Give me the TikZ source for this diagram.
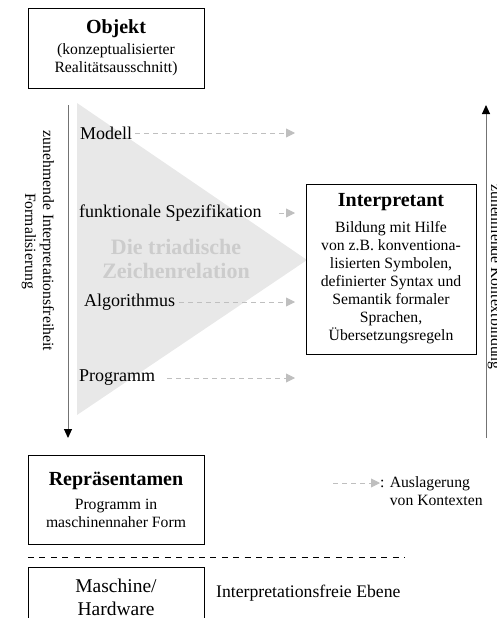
\documentclass[tikz,border=0pt]{standalone}
\usepackage{fontspec}
\setmainfont{Liberation Serif}
\usetikzlibrary{arrows.meta}

\newcommand{\bodyfs}{\fontsize{15.7}{18}\selectfont}
\newcommand{\titlefs}{\fontsize{20}{24}\selectfont\bfseries}
\newcommand{\lblfs}{\fontsize{18}{21}\selectfont}

\begin{document}
\begin{tikzpicture}[x=1pt,y=-1pt,
box/.style={draw,line width=0.8pt,align=center,inner sep=0pt,font=\bodyfs,minimum width=176pt},
lbl/.style={anchor=west,inner sep=0pt,font=\lblfs},
ctx/.style={draw=black!25,line width=0.9pt,dash pattern=on 5pt off 4pt,-{Triangle[length=9pt,width=9pt,color=black!25]}},
axis/.style={draw=black!55,line width=1pt,-{Triangle[length=9pt,width=8pt,color=black]}}
]

\useasboundingbox (0,0) rectangle (497,618);
\clip (0,0) rectangle (497,618);

\fill[black!9] (77,103) -- (77,415) -- (307,260) -- cycle;

\node[font=\fontsize{22}{24}\selectfont\bfseries,text=black!20,align=center] (triad) at (176,259) {Die triadische\\Zeichenrelation};

\node[box,minimum height=80pt] (objekt) at (116,48) {{\titlefs Objekt}\\[3pt](konzeptualisierter\\Realitätsausschnitt)};
\node[box,minimum width=170pt,minimum height=170pt] (interpretant) at (391,269) {{\titlefs Interpretant}\\[8pt]Bildung mit Hilfe\\von z.B. konventiona-\\lisierten Symbolen,\\definierter Syntax und\\Semantik formaler\\Sprachen,\\Übersetzungsregeln};
\node[box,minimum height=89pt] (repr) at (116,499.5) {{\titlefs Repräsentamen}\\[6pt]Programm in\\maschinennaher Form};
\node[box,minimum height=60pt,font=\fontsize{19.5}{23}\selectfont] (maschine) at (116,597) {Maschine/\\Hardware};

\node[lbl] (modell) at (80,133) {Modell};
\node[lbl] (spez) at (79,213) {funktionale Spezifikation};
\node[lbl] (algo) at (84,302) {Algorithmus};
\node[lbl] (prog) at (79,378) {Programm};

\coordinate (ctxend) at (295,0);
\foreach \n/\s in {modell/3,spez/17,algo/4,prog/12}
{
\draw[ctx] ([xshift=\s pt]\n.east) -- (\n.east -| ctxend);
}

\coordinate (ltop) at (68,105);
\coordinate (lbot) at (68,438);
\coordinate (rbot) at (486,438);
\coordinate (rtop) at (486,105);
\draw[axis] (ltop) -- (lbot);
\draw[axis] (rbot) -- (rtop);

\node[rotate=-90,align=center,font=\bodyfs] (freiheit) at (38,241) {zunehmende Interpretationsfreiheit\\Formalisierung};
\node[rotate=-90,anchor=base,font=\bodyfs] (bindung) at (491,277) {zunehmende Kontextbindung};

\node[anchor=west,inner sep=0pt,align=left,font=\bodyfs] (legende) at (380,491) {: Auslagerung\\\phantom{: }von Kontexten};
\coordinate (lstart) at (333,483);
\draw[ctx] (lstart) -- (lstart -| legende.west);

\coordinate (sl) at (28,557);
\coordinate (sr) at (405,557);
\draw[line width=0.7pt,dash pattern=on 6pt off 5.4pt] (sl) -- (sr);

\node[anchor=west,inner sep=0pt,font=\fontsize{17.7}{21}\selectfont] (ebene) at (216,593) {Interpretationsfreie Ebene};
\end{tikzpicture}
\end{document}
